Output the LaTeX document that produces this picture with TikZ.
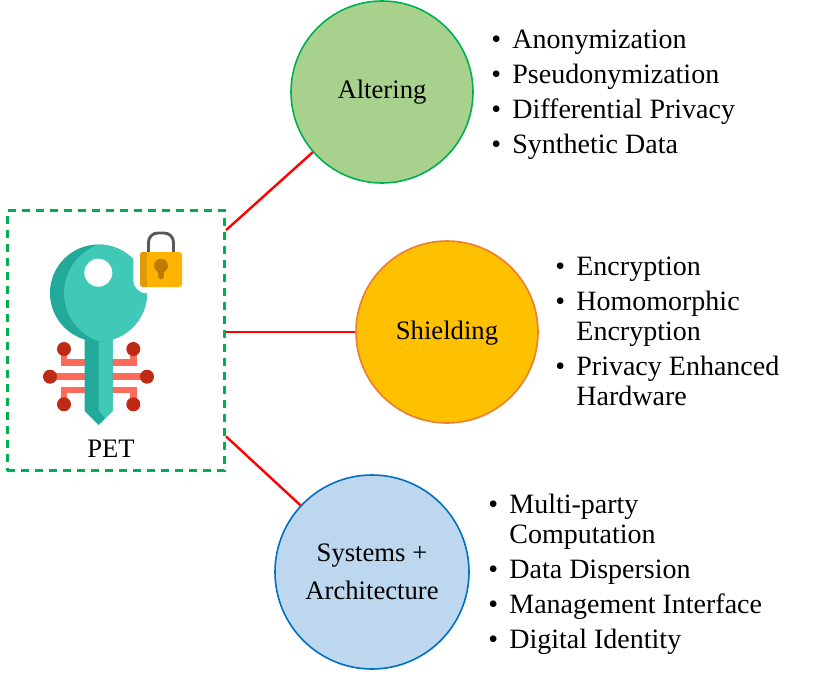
\documentclass[tikz,border=0pt]{standalone}
\usepackage{fontspec}
\setmainfont{Liberation Serif}
\usepackage{xcolor}
\usetikzlibrary{positioning,calc}
\definecolor{PETgreen}{HTML}{00B050}
\definecolor{PETred}{HTML}{FF0000}
\definecolor{PETalter}{HTML}{A9D18E}
\definecolor{PETshield}{HTML}{FFC000}
\definecolor{PETshieldline}{HTML}{ED7D31}
\definecolor{PETsystem}{HTML}{BDD7EE}
\definecolor{PETsystemline}{HTML}{0070C0}
\definecolor{KEYlight}{HTML}{3FC9B6}
\definecolor{KEYdark}{HTML}{22A999}
\definecolor{KEYwire}{HTML}{FF6B5A}
\definecolor{KEYpin}{HTML}{BE2A14}
\definecolor{LOCKbody}{HTML}{FFB300}
\definecolor{LOCKdark}{HTML}{DF9A06}
\definecolor{LOCKhole}{HTML}{BF7A00}
\definecolor{LOCKbar}{HTML}{595959}
\newcommand{\listgap}{\\[3.75pt]}
\tikzset{
  petfont/.style={font=\fontsize{20}{28.5}\selectfont},
  petcircle/.style={circle, draw, line width=1.2pt, inner sep=0pt, align=center, petfont, minimum size=136.5pt},
  petlink/.style={draw=PETred, line width=1.8pt},
  petlist/.style={anchor=west, inner sep=0pt, font=\fontsize{21}{22.5}\selectfont},
  wire/.style={draw=KEYwire, line width=5.2pt},
  pin/.style={circle, fill=KEYpin, minimum size=10.5pt, inner sep=0pt}
}
\begin{document}
\begin{tikzpicture}[x=0.75pt,y=-0.75pt]
\useasboundingbox (0,0) rectangle (830,674);
% dashed frame round the key
\node[draw=PETgreen, dash pattern=on 6pt off 4.5pt, line width=2.1pt, minimum width=163pt, minimum height=195pt, inner sep=0pt] (petbox) at (116,340.5) {};
\node[petfont, inner sep=0pt] (petlabel) at (111,449) {PET};
% circuit wires
\draw[wire] (64,349) |- (85,362.7) (133.3,349) |- (112,362.7);
\draw[wire] (64,404.3) |- (85,390) (133.3,404.3) |- (112,390);
\draw[wire] (50,376.7) -- (147,376.7);
\foreach \px/\py in {64/349, 133.3/349, 50/376.7, 147/376.7, 64/404.3, 133.3/404.3}
  \node[pin] at (\px,\py) {};
% key shaft and head
\fill[KEYdark] (84.7,330) -- (112.7,330) -- (112.7,411) -- (98.7,425) -- (84.7,411) -- cycle;
\fill[KEYlight] (98.7,330) -- (112.7,330) -- (112.7,411) -- (105.3,418) -- (98.7,411) -- cycle;
\fill[KEYdark] (98.5,293) circle[radius=36.4pt];
\begin{scope}
  \clip (98.5,293) circle[radius=36.4pt];
  \fill[KEYlight] (115,293) circle[radius=38.2pt];
\end{scope}
\fill[white] (98.3,272.7) circle[radius=10.5pt];
% padlock
\fill[white, rounded corners=10pt] (133.3,225) rectangle (195,293.3);
\draw[LOCKbar, line width=2.2pt, rounded corners=7pt] (148.5,254) -- (148.5,233) -- (173.5,233) -- (173.5,254);
\fill[LOCKbody, rounded corners=2.2pt] (140,252) rectangle (182,287);
\fill[LOCKdark, rounded corners=2.2pt] (140,252) rectangle (150,287);
\fill[LOCKbody] (147,252) rectangle (152,287);
\fill[LOCKhole] (161,265.7) circle[radius=5.2pt];
\draw[LOCKhole, line width=5pt, line cap=round] (161,268) -- (161,276);
% the three groups
\node[petcircle, draw=PETgreen, fill=PETalter] (altering) at (382,92) {Altering};
\node[petcircle, draw=PETshieldline, fill=PETshield] (shielding) at (447,332) {\raisebox{-1.2pt}[\height][\depth]{Shielding}};
\node[petcircle, draw=PETsystemline, fill=PETsystem, minimum size=145.5pt] (systems) at (372,572) {Systems +\\Architecture};
\draw[petlink] ($(petbox.north east)!0.08!(petbox.south east)$) -- (altering.221);
\draw[petlink] (petbox.east |- shielding.west) -- (shielding.west);
\draw[petlink] ($(petbox.north east)!0.865!(petbox.south east)$) -- (systems.137.5);
% item lists
\node[petlist] (alterlist) at (491,94.5) {\begin{tabular}{@{}l@{\hspace{8.5pt}}l@{}}
\textbullet & Anonymization\listgap
\textbullet & Pseudonymization\listgap
\textbullet & Differential Privacy\listgap
\textbullet & Synthetic Data
\end{tabular}};
\node[petlist] (shieldlist) at (555,334.5) {\begin{tabular}{@{}l@{\hspace{8.5pt}}l@{}}
\textbullet & Encryption\listgap
\textbullet & Homomorphic\\
 & Encryption\listgap
\textbullet & Privacy Enhanced\\
 & Hardware
\end{tabular}};
\node[petlist] (systemlist) at (488,574.5) {\begin{tabular}{@{}l@{\hspace{8.5pt}}l@{}}
\textbullet & Multi-party\\
 & Computation\listgap
\textbullet & Data Dispersion\listgap
\textbullet & Management Interface\listgap
\textbullet & Digital Identity
\end{tabular}};
\end{tikzpicture}
\end{document}
